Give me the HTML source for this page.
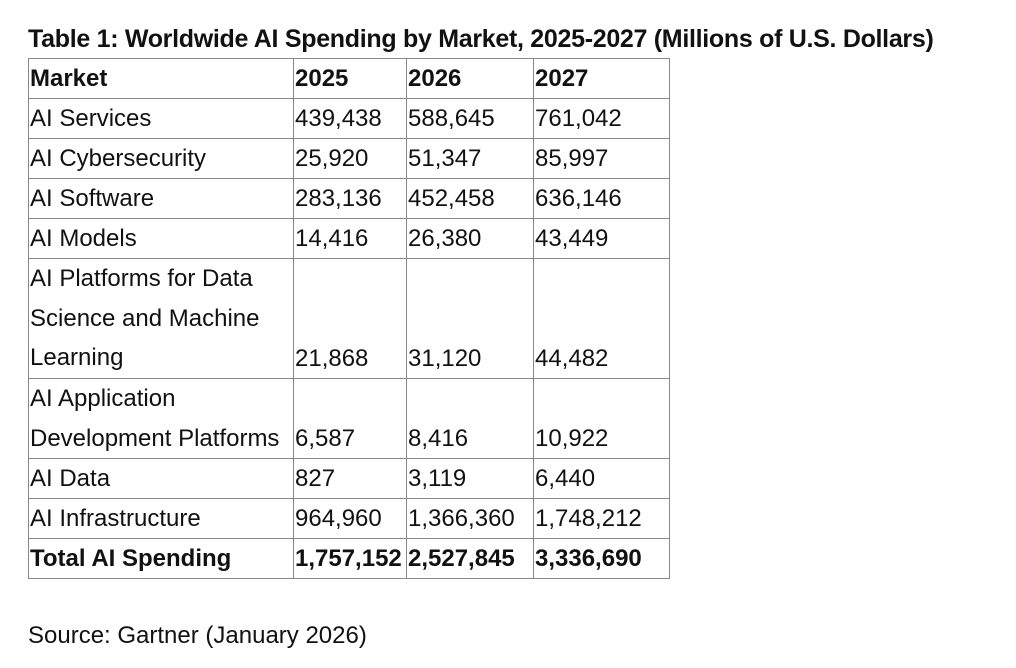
<!DOCTYPE html>
<html><head><meta charset="utf-8"><style>
body{margin:0;width:1016px;height:668px;background:#fff;font-family:"Liberation Sans",sans-serif;color:#111;position:relative;overflow:hidden}
h1{position:absolute;left:28px;top:25px;margin:0;font-size:25px;font-weight:bold;letter-spacing:-0.3px;white-space:nowrap}
table{position:absolute;left:28px;top:58px;border-collapse:collapse;font-size:24px}
td{border:1px solid #888;padding:0 1px;line-height:39px;height:39px;vertical-align:bottom;white-space:nowrap;overflow:hidden}
td.m{line-height:39.67px}
tr.b td{font-weight:bold}
.src{position:absolute;left:28px;top:622px;font-size:24px}
</style></head><body>
<h1>Table 1: Worldwide AI Spending by Market, 2025-2027 (Millions of U.S. Dollars)</h1>
<table>
<colgroup><col style="width:265px"><col style="width:113px"><col style="width:127px"><col style="width:136px"></colgroup>
<tr class="b"><td>Market</td><td>2025</td><td>2026</td><td>2027</td></tr>
<tr><td>AI Services</td><td>439,438</td><td>588,645</td><td>761,042</td></tr>
<tr><td>AI Cybersecurity</td><td>25,920</td><td>51,347</td><td>85,997</td></tr>
<tr><td>AI Software</td><td>283,136</td><td>452,458</td><td>636,146</td></tr>
<tr><td>AI Models</td><td>14,416</td><td>26,380</td><td>43,449</td></tr>
<tr><td class="m">AI Platforms for Data<br>Science and Machine<br>Learning</td><td>21,868</td><td>31,120</td><td>44,482</td></tr>
<tr><td class="m">AI Application<br>Development Platforms</td><td>6,587</td><td>8,416</td><td>10,922</td></tr>
<tr><td>AI Data</td><td>827</td><td>3,119</td><td>6,440</td></tr>
<tr><td>AI Infrastructure</td><td>964,960</td><td>1,366,360</td><td>1,748,212</td></tr>
<tr class="b"><td>Total AI Spending</td><td>1,757,152</td><td>2,527,845</td><td>3,336,690</td></tr>
</table>
<div class="src">Source: Gartner (January 2026)</div>
</body></html>
